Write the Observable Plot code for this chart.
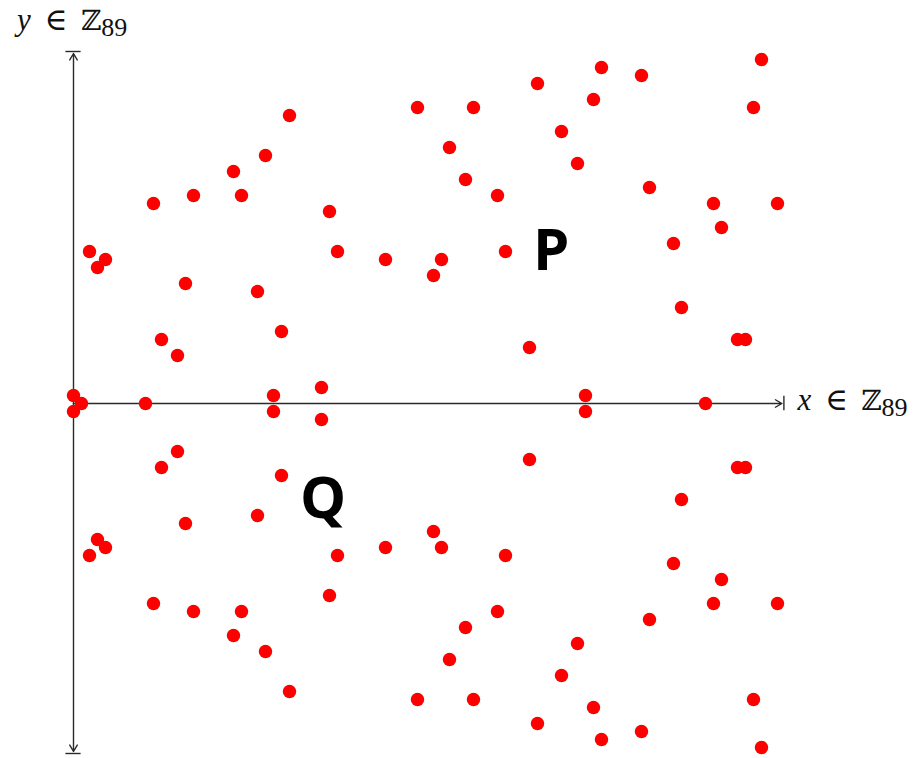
<!DOCTYPE html>
<html>
<head>
<meta charset="utf-8">
<script src="https://cdn.jsdelivr.net/npm/d3@7"></script>
<script src="https://cdn.jsdelivr.net/npm/@observablehq/plot@0.6"></script>
<style>
  html, body { margin: 0; padding: 0; background: #fff; }
  svg { display: block; }
</style>
</head>
<body>
<div id="chart"></div>
<script>
// Points of the curve y^2 = x^3 - 2x + 1 over Z_89, y drawn in the range -44..44.
const upperX = [0, 2, 3, 4, 10, 11, 13, 14, 15, 20, 21, 23, 24, 25, 26, 27, 31, 32, 33, 39, 43, 45, 46,
                47, 49, 50, 53, 54, 57, 58, 61, 63, 64, 65, 66, 71, 72, 75, 76, 80, 81, 83, 84, 85, 86, 88];
const upperY = [1, 19, 17, 18, 25, 8, 6, 15, 26, 29, 26, 14, 31, 1, 9, 36, 2, 24, 19, 18, 37, 16, 18,
                32, 28, 37, 26, 19, 7, 40, 34, 30, 1, 38, 42, 41, 27, 20, 12, 25, 22, 8, 8, 37, 43, 25];
const lowerX = [0, 2, 3, 4, 10, 11, 13, 14, 15, 20, 21, 23, 24, 25, 26, 27, 31, 32, 33, 39, 43, 45, 46,
                47, 49, 50, 53, 54, 57, 58, 61, 63, 64, 65, 66, 71, 72, 75, 76, 80, 81, 83, 84, 85, 86, 88];
const lowerY = [-1, -19, -17, -18, -25, -8, -6, -15, -26, -29, -26, -14, -31, -1, -9, -36, -2, -24, -19, -18, -37, -16, -18,
                -32, -28, -37, -26, -19, -7, -40, -34, -30, -1, -38, -42, -41, -27, -20, -12, -25, -22, -8, -8, -37, -43, -25];
const zeroX = [1, 9, 79];
const zeroY = [0, 0, 0];

// Named points
const pointNames = ["P", "Q"];
const pointNameX = [59.7, 31.2];
const pointNameY = [19.0, -12.0];

const points = [
  ...upperX.map((x, i) => ({x, y: upperY[i]})),
  ...zeroX.map((x, i) => ({x, y: zeroY[i]})),
  ...lowerX.map((x, i) => ({x, y: lowerY[i]}))
];
const names = pointNames.map((t, i) => ({t, x: pointNameX[i], y: pointNameY[i]}));

const ink = "#2a2a2a";
const axisW = 1.4;

const chart = Plot.plot({
  width: 917,
  height: 758,
  marginLeft: 73,
  marginRight: 140,
  marginTop: 51,
  marginBottom: 3,
  x: {domain: [0, 88], axis: null},
  y: {domain: [-44, 44], axis: null},
  style: {background: "white", overflow: "visible"},
  marks: [
    // x axis with |-> end
    Plot.arrow([{x1: 0, y1: 0, x2: 88.55, y2: 0}], {
      x1: "x1", y1: "y1", x2: "x2", y2: "y2",
      stroke: ink, strokeWidth: axisW, headLength: 8, headAngle: 60
    }),
    Plot.ruleX([88.8], {y1: -0.9, y2: 0.9, stroke: ink, strokeWidth: axisW}),
    // y axis with arrows at both ends
    Plot.arrow([{x1: 0, y1: 0, x2: 0, y2: 43.75}, {x1: 0, y1: 0, x2: 0, y2: -43.5}], {
      x1: "x1", y1: "y1", x2: "x2", y2: "y2",
      stroke: ink, strokeWidth: axisW, headLength: 8, headAngle: 60
    }),
    Plot.ruleY([44.0, -43.75], {x1: -0.95, x2: 0.95, stroke: ink, strokeWidth: axisW}),
    // curve points
    Plot.dot(points, {x: "x", y: "y", r: 6.7, fill: "#ff0000", stroke: null}),
    // point names
    Plot.text(names, {
      x: "x", y: "y", text: "t",
      fontSize: 58, fontWeight: 700, fontFamily: "Open Sans",
      fill: "#000", textAnchor: "middle", lineAnchor: "middle"
    })
  ]
});

document.getElementById("chart").appendChild(chart);

// Axis titles, typeset as y ∈ ℤ89 / x ∈ ℤ89 with subscript
const sx = chart.scale("x"), sy = chart.scale("y");
const svg = d3.select(chart);
function mathLabel(g, x, y, v) {
  const t = g.append("text")
    .attr("x", x).attr("y", y)
    .attr("text-anchor", "start")
    .attr("font-family", "'Liberation Serif', 'DejaVu Serif', serif")
    .attr("font-size", 31)
    .attr("fill", "#111");
  t.append("tspan").attr("font-style", "italic").text(v);
  t.append("tspan").attr("dx", 14).attr("font-size", 31).attr("font-weight", 300).text("∈");
  t.append("tspan").attr("dx", 13).attr("font-family", "'DejaVu Serif', serif").attr("font-size", 28).text("ℤ");
  t.append("tspan").attr("dy", 6).attr("font-size", 26).text("89");
}
mathLabel(svg, sx.apply(0) - 56, sy.apply(46.6), "y");
mathLabel(svg, sx.apply(88.8) + 14, sy.apply(-0.85), "x");
</script>
</body>
</html>
